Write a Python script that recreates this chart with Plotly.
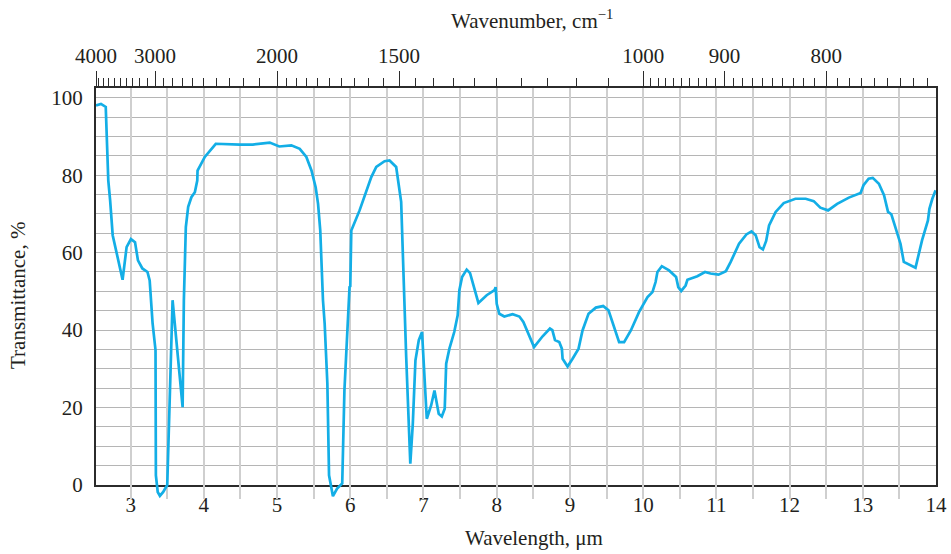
import plotly.graph_objects as go

# ---- data ----
wavelength_um = [2.527, 2.595, 2.66, 2.695, 2.72, 2.755, 2.89, 2.945, 3.004, 3.06, 3.10, 3.16, 3.23, 3.26,
                 3.30, 3.34, 3.345, 3.37, 3.40, 3.445, 3.50, 3.536, 3.573, 3.71, 3.727, 3.754, 3.786, 3.83,
                 3.877, 3.91, 3.914, 4.013, 4.163, 4.49, 4.67, 4.90, 5.03, 5.195, 5.31, 5.40, 5.47, 5.527,
                 5.56, 5.59, 5.627, 5.65, 5.673, 5.687, 5.71, 5.763, 5.82, 5.89, 5.92, 5.953, 5.98, 5.99,
                 6.0, 6.014, 6.127, 6.287, 6.355, 6.468, 6.536, 6.627, 6.695, 6.727, 6.764, 6.82, 6.854,
                 6.89, 6.936, 6.98, 7.045, 7.105, 7.15, 7.208, 7.25, 7.29, 7.31, 7.354, 7.42, 7.467, 7.49,
                 7.527, 7.59, 7.636, 7.695, 7.75, 7.863, 7.97, 7.985, 8.0, 8.036, 8.104, 8.217, 8.31, 8.364,
                 8.51, 8.627, 8.727, 8.76, 8.796, 8.854, 8.89, 8.90, 8.968, 9.036, 9.118, 9.172, 9.254,
                 9.354, 9.454, 9.527, 9.604, 9.672, 9.74, 9.832, 9.945, 10.06, 10.127, 10.17, 10.195,
                 10.255, 10.354, 10.45, 10.48, 10.52, 10.58, 10.605, 10.74, 10.845, 10.92, 11.03, 11.13,
                 11.196, 11.31, 11.41, 11.48, 11.537, 11.59, 11.636, 11.68, 11.72, 11.81, 11.92, 12.08,
                 12.22, 12.33, 12.42, 12.526, 12.58, 12.65, 12.81, 12.97, 13.01, 13.08, 13.136, 13.22,
                 13.29, 13.345, 13.39, 13.455, 13.515, 13.56, 13.72, 13.81, 13.89, 13.91, 13.95, 13.995]
transmittance = [98.0, 98.4, 97.6, 78.6, 73.5, 64.5, 53.0, 61.4, 63.5, 62.7, 58.0, 55.9, 55.0, 52.8,
                 41.7, 34.8, 2.5, -1.8, -2.8, -1.8, 0.0, 24.4, 47.7, 20.1, 47.6, 66.6, 71.8, 74.3,
                 75.6, 78.6, 81.2, 84.7, 88.1, 87.9, 87.9, 88.4, 87.4, 87.7, 86.8, 84.7, 81.2, 76.9,
                 72.6, 65.7, 47.7, 41.7, 33.0, 26.2, 2.5, -2.9, -0.9, 0.4, 24.4, 37.4, 47.7, 51.1,
                 51.3, 65.7, 70.9, 79.5, 82.1, 83.6, 83.8, 82.1, 73.1, 52.8, 33.0, 5.5, 15.8,
                 32.2, 37.4, 39.5, 17.1, 20.6, 24.4, 18.4, 17.7, 19.7, 31.3, 35.2, 39.5, 43.8, 50.3,
                 53.7, 55.6, 54.7, 50.7, 47.0, 49.0, 50.3, 51.1, 46.8, 44.2, 43.5, 44.1, 43.5, 42.1,
                 35.6, 38.4, 40.4, 40.0, 37.4, 36.9, 35.2, 32.6, 30.6, 32.6, 35.2, 39.9, 44.2,
                 45.8, 46.2, 45.1, 40.8, 36.9, 36.9, 39.9, 44.7, 48.5, 49.8, 52.4, 55.0,
                 56.5, 55.4, 53.7, 51.1, 50.1, 51.5, 53.0, 53.9, 55.0, 54.6, 54.3, 55.2,
                 57.6, 62.3, 64.7, 65.5, 64.5, 61.4, 60.8, 63.0, 67.0, 70.5, 72.8, 73.9,
                 73.9, 73.3, 71.6, 70.9, 71.6, 72.6, 74.2, 75.4, 77.4, 79.1, 79.3, 77.8,
                 74.8, 70.5, 69.9, 65.7, 62.3, 57.6, 56.1, 63.2, 68.3, 71.3, 73.9, 76.1]

x_tick_vals = [3, 4, 5, 6, 7, 8, 9, 10, 11, 12, 13, 14]
y_tick_vals = [0, 20, 40, 60, 80, 100]
wavenumber_major = [4000, 3000, 2000, 1500, 1000, 900, 800]
wavenumber_minor = ([4000 - 100 * i for i in range(1, 10)] + [3000 - 100 * i for i in range(1, 10)]
                    + [2000 - 50 * i for i in range(1, 10)] + [1500 - 50 * i for i in range(1, 10)]
                    + [1000 - 10 * i for i in range(1, 10)] + [900 - 10 * i for i in range(1, 10)]
                    + [800 - 10 * i for i in range(1, 9)])

# ---- layout constants ----
W, H = 951, 554
ML, MR, MT, MB = 96, 15, 88, 55
PH = H - MT - MB            # plot area height (incl. extension below 0)
PW = W - ML - MR
EXT = 14                    # px extension below T=0 for the curve overlay
YMAX = 102.5
px_per_unit = (PH - EXT) / YMAX
XR = [2.527, 14.0]

FONT = "Liberation Serif, Times New Roman, serif"
TXT = "#231f20"
AX = "#2b2b2b"

# wavenumber -> wavelength position (the drawn scale's 4000 mark sits on the frame edge)
top_major_pos = [max(10000 / w, XR[0] + 0.001) for w in wavenumber_major]
top_minor_pos = [10000 / w for w in wavenumber_minor]

fig = go.Figure()
fig.add_trace(go.Scatter(x=wavelength_um, y=transmittance, mode="lines",
                         line=dict(color="#13aee6", width=2.7),
                         xaxis="x", yaxis="y3", showlegend=False, hoverinfo="skip"))
fig.add_trace(go.Scatter(x=[XR[0]], y=[None], mode="lines", xaxis="x", yaxis="y",
                         showlegend=False, hoverinfo="skip"))
fig.add_trace(go.Scatter(x=[XR[0]], y=[None], mode="lines", xaxis="x2", yaxis="y",
                         showlegend=False, hoverinfo="skip"))

fig.update_layout(
    width=W, height=H,
    margin=dict(l=ML, r=MR, t=MT, b=MB, autoexpand=False),
    paper_bgcolor="white", plot_bgcolor="rgba(0,0,0,0)",
    font=dict(family=FONT, size=21, color=TXT),
    xaxis=dict(range=XR, domain=[0, 1], anchor="y", automargin=False,
               tickmode="array", tickvals=x_tick_vals, ticks="",
               ticklabelstandoff=0,
               showgrid=True, gridcolor="#cfcfcf", gridwidth=1.6,
               minor=dict(tick0=2.5, dtick=0.5, showgrid=True, gridcolor="#cfcfcf", gridwidth=1.6, ticks=""),
               showline=True, linecolor=AX, linewidth=2, mirror=True, zeroline=False,
               tickfont=dict(family=FONT, size=21, color=TXT)),
    yaxis=dict(range=[0, YMAX], domain=[EXT / PH, 1], anchor="x", automargin=False,
               tickmode="array", tickvals=y_tick_vals, ticks="",
               ticklabelstandoff=7,
               showgrid=True, gridcolor="#b5b5b5", gridwidth=1.4,
               minor=dict(tick0=0, dtick=5, showgrid=True, gridcolor="#b5b5b5", gridwidth=1.4, ticks=""),
               showline=True, linecolor=AX, linewidth=2, mirror=True, zeroline=False,
               tickfont=dict(family=FONT, size=21, color=TXT)),
    xaxis2=dict(range=XR, overlaying="x", side="top", anchor="y", automargin=False,
                tickmode="array", tickvals=top_major_pos,
                ticktext=[str(w) for w in wavenumber_major],
                ticks="outside", ticklen=16, tickwidth=1.4, tickcolor=AX,
                minor=dict(tickmode="array", tickvals=top_minor_pos,
                           ticks="outside", ticklen=9, tickwidth=1.2, tickcolor=AX, showgrid=False),
                showgrid=False, showline=False, zeroline=False,
                tickfont=dict(family=FONT, size=21, color=TXT)),
    yaxis3=dict(range=[-EXT / px_per_unit, YMAX], domain=[0, 1], anchor="x", automargin=False,
                visible=False, showgrid=False, zeroline=False),
    annotations=[
        dict(text="Wavenumber, cm<sup>−1</sup>", xref="paper", yref="paper",
             x=(532 - ML) / PW, y=1 + (MT - 20) / PH, xanchor="center", yanchor="middle",
             showarrow=False, font=dict(family=FONT, size=21, color=TXT)),
        dict(text="Wavelength, μm", xref="paper", yref="paper",
             x=(534 - ML) / PW, y=-(538 - (H - MB)) / PH, xanchor="center", yanchor="middle",
             showarrow=False, font=dict(family=FONT, size=21, color=TXT)),
        dict(text="Transmittance, %", xref="paper", yref="paper", textangle=-90,
             x=(18 - ML) / PW, y=((H - MB) - 296) / PH, xanchor="center", yanchor="middle",
             showarrow=False, font=dict(family=FONT, size=21, color=TXT)),
    ],
)

fig.write_html("out.html", config={"displayModeBar": False},
               post_script="document.body.style.margin='0';document.body.style.overflow='hidden';")
